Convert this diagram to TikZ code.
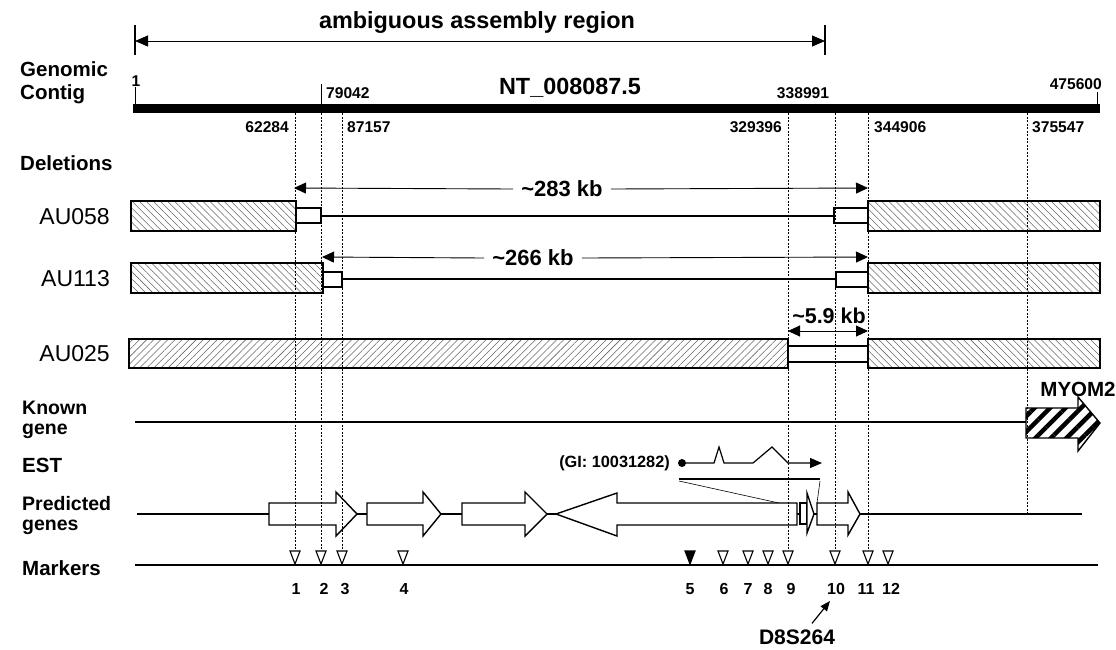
\documentclass[tikz,border=0pt]{standalone}
\usepackage{fontspec}
\setmainfont{Liberation Sans}
\usetikzlibrary{arrows.meta,patterns.meta}
\begin{document}
\begin{tikzpicture}[x=1pt,y=-1pt,
  lab/.style={font=\fontsize{20.5}{22}\selectfont\bfseries,anchor=west,inner sep=0pt},
  aulab/.style={font=\fontsize{23}{24}\selectfont,anchor=east,inner sep=0pt},
  numtxt/.style={font=\fontsize{15.6}{16}\selectfont\bfseries,inner sep=0pt},
  mnum/.style={font=\fontsize{16}{17}\selectfont\bfseries,inner sep=0pt},
  bigtxt/.style={font=\fontsize{23.4}{24}\selectfont\bfseries,inner sep=0pt},
  dimtxt/.style={font=\fontsize{22}{23}\selectfont\bfseries,inner ysep=0pt,inner xsep=8pt},
  guide/.style={line width=0.75pt,dash pattern=on 2pt off 1.5pt},
  hatchL/.style={draw,line width=1.4pt,pattern={Lines[angle=-45,distance=5pt,line width=0.55pt]},pattern color=black!60},
  hatchR/.style={draw,line width=1.4pt,pattern={Lines[angle=45,distance=5pt,line width=0.55pt]},pattern color=black!60},
  gapbox/.style={draw,line width=1.2pt,fill=white},
  genebox/.style={draw,line width=1.4pt,fill=white,line join=miter},
  mkr/.style={draw,line width=1.1pt,fill=white},
  dimarrow/.style={line width=0.9pt,-{Triangle[length=12pt,width=11pt]}},
  track/.style={line width=1.1pt},
]
\useasboundingbox (0,0) rectangle (1116,649);

% ---------- ambiguous assembly region ----------
\node[bigtxt] (amb) at (477,22) {ambiguous assembly region};
\coordinate (ambL) at (135,41);
\coordinate (ambR) at (825,41);
\draw[line width=1.2pt] (135,25) -- (135,55);
\draw[line width=1.2pt] (825,25) -- (825,55);
\draw[line width=0.9pt,{Triangle[length=13pt,width=11pt]}-{Triangle[length=13pt,width=11pt]}] (ambL) -- (ambR);

% ---------- left labels ----------
\node[lab] (lgen) at (20,69) {Genomic};
\node[lab] (lcon) at (20,94) {Contig};
\node[lab] (ldel) at (20,163) {Deletions};
\node[aulab] (l058) at (110,217) {AU058};
\node[aulab] (l113) at (110,279) {AU113};
\node[aulab] (l025) at (110,354) {AU025};
\node[lab,font=\fontsize{19.5}{21}\selectfont\bfseries] (lkn1) at (22,408) {Known};
\node[lab,font=\fontsize{19.5}{21}\selectfont\bfseries] (lkn2) at (22,431) {gene};
\node[lab] (lest) at (22,465) {EST};
\node[lab,font=\fontsize{19.5}{21}\selectfont\bfseries] (lpr1) at (22,504) {Predicted};
\node[lab,font=\fontsize{19.5}{21}\selectfont\bfseries] (lpr2) at (22,527) {genes};
\node[lab] (lmk) at (22,568) {Markers};

% ---------- genomic contig ----------
\fill (133,104) rectangle (1100,113);
\node[bigtxt] (nt) at (570,88) {NT\_008087.5};
\node[numtxt] (p1) at (136,81) {1};
\draw[line width=1pt] (135,87) -- (135,104);
\node[numtxt,anchor=west] (p79) at (326,93) {79042};
\draw[line width=1pt] (321,84) -- (321,104);
\node[numtxt] (p338) at (803,93) {338991};
\node[numtxt,anchor=east] (p475) at (1102,84) {475600};
\draw[line width=1pt] (1097,92) -- (1097,104);
\node[numtxt,anchor=east] (p62) at (289,127) {62284};
\node[numtxt,anchor=west] (p87) at (347,127) {87157};
\node[numtxt,anchor=east] (p329) at (782,127) {329396};
\node[numtxt,anchor=west] (p344) at (874,127) {344906};
\node[numtxt,anchor=west] (p375) at (1032,127) {375547};

% ---------- deletions ----------
% AU058
\draw[hatchL] (131,201) rectangle (296,231);
\draw[gapbox] (296,208) rectangle (321,223);
\draw[track] (321,216) -- (834,216);
\draw[gapbox] (834,208) rectangle (868,223);
\draw[hatchL] (868,201) rectangle (1100,231);
\node[dimtxt] (t283) at (562,189) {\textasciitilde283 kb};
\coordinate (a283L) at (294,188);
\coordinate (a283R) at (868,188);
\draw[dimarrow] (t283.west) -- (a283L);
\draw[dimarrow] (t283.east) -- (a283R);
% AU113
\draw[hatchL] (131,263) rectangle (323,293);
\draw[gapbox] (323,272) rectangle (342,287);
\draw[track] (342,279) -- (836,279);
\draw[gapbox] (836,272) rectangle (868,287);
\draw[hatchL] (868,263) rectangle (1100,293);
\node[dimtxt] (t266) at (533,258) {\textasciitilde266 kb};
\coordinate (a266L) at (322,257);
\coordinate (a266R) at (868,257);
\draw[dimarrow] (t266.west) -- (a266L);
\draw[dimarrow] (t266.east) -- (a266R);
% AU025
\draw[hatchR] (129,339) rectangle (788,368);
\draw[gapbox] (788,346) rectangle (868,362);
\draw[hatchL] (868,339) rectangle (1100,368);
\node[font=\fontsize{21.5}{23}\selectfont\bfseries,inner sep=0pt] (t59) at (829,316) {\textasciitilde5.9 kb};
\coordinate (a59L) at (788,331);
\coordinate (a59R) at (868,331);
\draw[line width=0.9pt,{Triangle[length=12pt,width=11pt]}-{Triangle[length=12pt,width=11pt]}] (a59L) -- (a59R);

% ---------- known gene ----------
\draw[track] (135,422) -- (1026,422);
\draw[line width=1.4pt,pattern={Lines[angle=45,distance=11pt,line width=4.5pt]},pattern color=black]
  (1026,408) -- (1078,408) -- (1078,397) -- (1100,423) -- (1078,451) -- (1078,438) -- (1026,438) -- cycle;
\node[font=\fontsize{20.5}{22}\selectfont\bfseries,inner sep=0pt] (myom) at (1078,389) {MYOM2};

% ---------- EST ----------
\node[font=\fontsize{16.3}{17}\selectfont\bfseries,inner sep=0pt,anchor=east] (gi) at (670,463) {(GI: 10031282)};
\fill (682,463) circle (4);
\draw[line width=1.2pt,-{Triangle[length=12pt,width=10pt]}] (682,463) -- (714,463) -- (719,447) -- (724,463) -- (753,463) -- (772,447) -- (788,463) -- (822,463);
\draw[line width=2.6pt] (679,479) -- (820,479);
\draw[line width=0.6pt] (679,481) -- (797,507);
\draw[line width=0.6pt] (820,481) -- (817,503);

% ---------- predicted genes ----------
\draw[track] (137,514) -- (1082,514);
\draw[genebox] (269,503) -- (336,503) -- (336,492) -- (357,514) -- (336,536) -- (336,525) -- (269,525) -- cycle;
\draw[genebox] (367,503) -- (423,503) -- (423,492) -- (441,514) -- (423,536) -- (423,525) -- (367,525) -- cycle;
\draw[genebox] (462,503) -- (525,503) -- (525,492) -- (547,514) -- (525,536) -- (525,525) -- (462,525) -- cycle;
\draw[genebox] (797,503) -- (617,503) -- (617,493) -- (556,514) -- (617,536) -- (617,525) -- (797,525) -- cycle;
\draw[line width=1.4pt] (800,503) -- (800,525);
\draw[genebox] (800,503) rectangle (807,524);
\draw[genebox] (807,493) -- (814,514) -- (807,533) -- cycle;
\draw[genebox] (817,503) -- (848,503) -- (848,492) -- (860,514) -- (848,535) -- (848,525) -- (817,525) -- cycle;

% ---------- guide lines ----------
\draw[guide] (295,113) -- (295,551);
\draw[guide] (321,113) -- (321,551);
\draw[guide] (342,113) -- (342,551);
\draw[guide] (788,113) -- (788,551);
\draw[guide] (835,113) -- (835,551);
\draw[guide] (868,113) -- (868,551);
\draw[guide] (1027,113) -- (1027,514);

% ---------- markers ----------
\draw[track] (135,565) -- (1098,565);
\foreach \mx in {295,321,342,403,723,748,768,788,835,868,888}
  \draw[mkr] (\mx-5,551) -- (\mx+5,551) -- (\mx,564) -- cycle;
\draw[mkr,fill=black] (685,551) -- (695,551) -- (690,564) -- cycle;
\foreach \mx/\mt in {296/1,324/2,345/3,404/4,690/5,724/6,748/7,768/8,791/9,836/10,866/11,891/12}
  \node[mnum] (n\mt) at (\mx,589) {\mt};
\node[font=\fontsize{21}{22}\selectfont\bfseries,inner sep=0pt] (d8) at (797,637) {D8S264};
\coordinate (d8tip) at (830,601);
\draw[line width=1.2pt,-{Triangle[length=10pt,width=8pt]}] ([xshift=15pt,yshift=6pt]d8.north) -- (d8tip);
\end{tikzpicture}
\end{document}
